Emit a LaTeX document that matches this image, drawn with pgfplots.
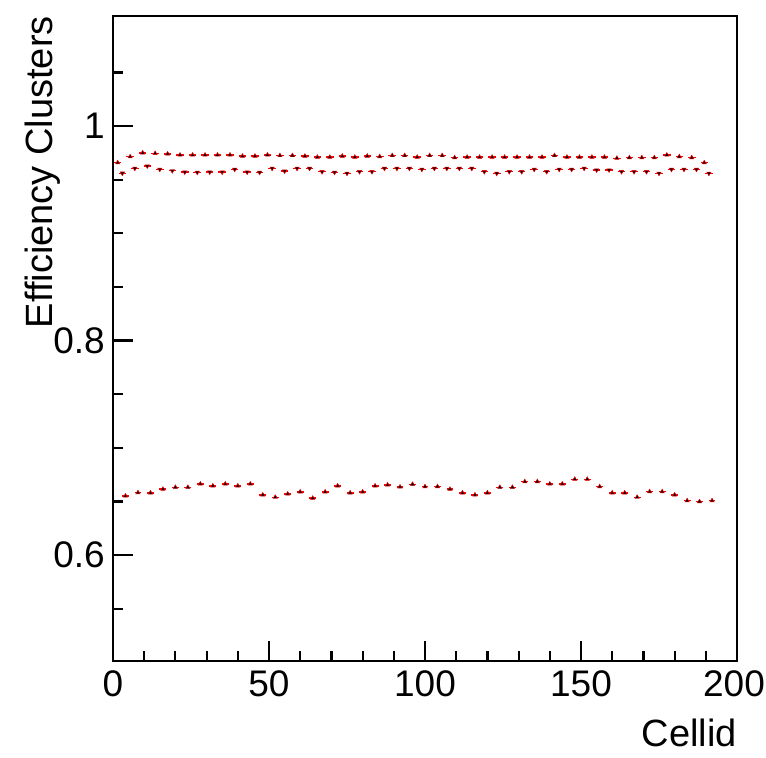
\documentclass[border=0pt]{standalone}
\usepackage{pgfplots}
\pgfplotsset{compat=1.18}
\usepackage{fontspec}
\setmainfont{Liberation Sans}
\definecolor{rootred}{RGB}{255,0,0}
\begin{document}
\begin{tikzpicture}
\begin{axis}[
  scale only axis,
  width=624bp, height=645bp,
  xmin=0, xmax=200, ymin=0.5012, ymax=1.1026,
  xtick={0,50,100,150,200},
  xticklabels={0,50,100,150,\hspace{-6bp}200},
  minor xtick={10,20,30,40,60,70,80,90,110,120,130,140,160,170,180,190},
  ytick={0.6,0.8,1},
  yticklabels={0.6,0.8,1},
  minor ytick={0.55,0.65,0.7,0.75,0.85,0.9,0.95,1.05},
  xtick pos=bottom, ytick pos=left,
  tick align=inside,
  major tick length=20bp, minor tick length=10bp,
  axis line style={line width=2.4bp},
  every tick/.style={black, line width=2.2bp},
  /pgf/number format/assume math mode=true,
  tick label style={font=\fontsize{37bp}{42bp}\selectfont},
  xticklabel style={inner sep=0pt, anchor=north, yshift=-9bp},
  yticklabel style={inner sep=0pt, anchor=east, xshift=-8bp},
  label style={font=\fontsize{38bp}{43bp}\selectfont},
  xlabel={Cellid},
  ylabel={Efficiency Clusters},
  xlabel style={at={(rel axis cs:1,-0.1333)}, anchor=base east, inner sep=0pt},
  ylabel style={at={(rel axis cs:-0.0962,1)}, anchor=base east, inner sep=0pt},
  clip=false,
]
% upper series
\addplot[only marks, mark=triangle*, mark size=2.5bp, mark options={draw=rootred, fill=black, line width=0.45bp},
  error bars/.cd, x dir=both, x fixed=1.2, error mark=none,
  error bar style={rootred, line width=1.4bp}]
table {
x y
1.5 0.9658
5.5 0.9714
9.5 0.9750
13.5 0.9745
17.5 0.9740
21.5 0.9730
25.5 0.9730
29.5 0.9730
33.5 0.9730
37.5 0.9730
41.5 0.9720
45.5 0.9720
49.5 0.9730
53.5 0.9725
57.5 0.9725
61.5 0.9720
65.5 0.9710
69.5 0.9710
73.5 0.9720
77.5 0.9710
81.5 0.9720
85.5 0.9715
89.5 0.9725
93.5 0.9725
97.5 0.9710
101.5 0.9725
105.5 0.9725
109.5 0.9705
113.5 0.9710
117.5 0.9710
121.5 0.9710
125.5 0.9710
129.5 0.9710
133.5 0.9710
137.5 0.9710
141.5 0.9725
145.5 0.9710
149.5 0.9710
153.5 0.9710
157.5 0.9710
161.5 0.9700
165.5 0.9705
169.5 0.9705
173.5 0.9705
177.5 0.9730
181.5 0.9715
185.5 0.9705
189.5 0.9658
};
% middle series
\addplot[only marks, mark=triangle*, mark size=2.5bp, mark options={draw=rootred, fill=black, line width=0.45bp, rotate=180},
  error bars/.cd, x dir=both, x fixed=1.2, error mark=none,
  error bar style={rootred, line width=1.4bp}]
table {
x y
3 0.9560
7 0.9605
11 0.9627
15 0.9596
19 0.9583
23 0.9570
27 0.9568
31 0.9570
35 0.9570
39 0.9596
43 0.9570
47 0.9568
51 0.9605
55 0.9580
59 0.9605
63 0.9605
67 0.9574
71 0.9568
75 0.9559
79 0.9574
83 0.9574
87 0.9605
91 0.9605
95 0.9605
99 0.9596
103 0.9605
107 0.9605
111 0.9605
115 0.9605
119 0.9574
123 0.9559
127 0.9574
131 0.9574
135 0.9596
139 0.9574
143 0.9596
147 0.9596
151 0.9605
155 0.9590
159 0.9590
163 0.9574
167 0.9574
171 0.9574
175 0.9559
179 0.9596
183 0.9596
187 0.9596
191 0.9559
};
% lower series
\addplot[only marks, mark=triangle*, mark size=2.5bp, mark options={draw=rootred, fill=black, line width=0.45bp},
  error bars/.cd, x dir=both, x fixed=1.1, error mark=none,
  error bar style={rootred, line width=1.4bp}]
table {
x y
4 0.6551
8 0.6582
12 0.6580
16 0.6614
20 0.6632
24 0.6632
28 0.6663
32 0.6645
36 0.6663
40 0.6645
44 0.6663
48 0.6561
52 0.6539
56 0.6570
60 0.6589
64 0.6530
68 0.6589
72 0.6645
76 0.6580
80 0.6589
84 0.6645
88 0.6654
92 0.6635
96 0.6660
100 0.6638
104 0.6638
108 0.6614
112 0.6580
116 0.6561
120 0.6580
124 0.6632
128 0.6632
132 0.6685
136 0.6685
140 0.6663
144 0.6663
148 0.6707
152 0.6707
156 0.6638
160 0.6580
164 0.6580
168 0.6539
172 0.6591
176 0.6591
180 0.6561
184 0.6507
188 0.6498
192 0.6507
};
\end{axis}
\pgfresetboundingbox
\path[use as bounding box] ([shift={(-113bp,-97bp)}]current axis.south west) rectangle ([shift={(29bp,16bp)}]current axis.north east);
\end{tikzpicture}
\end{document}
